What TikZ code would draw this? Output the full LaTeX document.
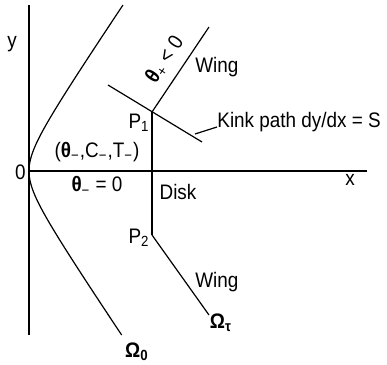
\documentclass[tikz,border=0pt]{standalone}
\usepackage{fontspec}
\setmainfont{Liberation Sans}[FakeStretch=0.9]
\usetikzlibrary{positioning}
\tikzset{
    % Lines
    axis/.style = {line width=0.8pt},
    curve/.style = {line width=0.6pt},
    % Labels
    lbl/.style = {inner sep=0pt, font=\fontsize{10.5}{12}\selectfont},
    greek/.style = {lbl, font=\fontsize{10.5}{12}\selectfont\bfseries}
}
\newcommand{\thsub}[1]{{\bfseries θ}\textsubscript{#1}}

\begin{document}
\begin{tikzpicture}[x=0.5pt, y=0.5pt]
    \useasboundingbox (-29,-194) rectangle (358,171);

    \coordinate (origin) at (0,0);
    \coordinate (ytop) at (0,166);
    \coordinate (ybot) at (0,-164);
    \coordinate (xend) at (338,0);
    \coordinate (P1) at (123,59);
    \coordinate (P2) at (123,-64);
    \coordinate (wingup) at (180,144);
    \coordinate (wingdown) at (180,-144);
    \coordinate (kinkA) at (79,86);
    \coordinate (kinkB) at (173,29);
    \coordinate (kinkfoot) at (166,37);

    % Axes
    \draw [axis] (ytop) -- (ybot);
    \draw [axis] (origin) -- (xend);
    \node (ylbl) [lbl] at (-17,127) {y};
    \node (zerolbl) [lbl, anchor=east] at (-3,-1) {0};
    \node (xlbl) [lbl] at (321,-9) {x};

    % Omega_0 boundary
    \draw [curve] plot [domain=-16.4:16.6, samples=70, smooth, variable=\t]
        ({10*sqrt(4+0.457*\t*\t)-20}, {10*\t});
    \node (omzero) [greek] at (108,-181) {Ω\textsubscript{0}};

    % Disk and wings
    \draw [axis] (P1) -- (P2);
    \draw [curve] (P1) -- (wingup);
    \draw [curve] (P2) -- (wingdown);
    \draw [curve] (kinkA) -- (kinkB);

    \node (p1lbl) [lbl, anchor=east] at (121,48) {P\textsubscript{1}};
    \node (p2lbl) [lbl, anchor=east] at (121,-67) {P\textsubscript{2}};
    \node (wingtop) [lbl, anchor=base west] at (166,99) {Wing};
    \node (wingbot) [lbl, anchor=base west] at (166,-116) {Wing};
    \node (omtau) [greek] at (192,-152) {Ω\textsubscript{τ}};
    \node (thplus) [lbl, rotate=56] at (136,111) {\thsub{+} < 0};

    \node (kinklbl) [lbl, anchor=base west] at (188,44) {Kink path dy/dx = S};
    \draw [curve] (kinkfoot) -- (kinklbl.base west);

    \node (state) [lbl] at (68,19) {(\thsub{−},C\textsubscript{−},T\textsubscript{−})};
    \node (thzero) [lbl] at (68,-15) {\thsub{−} = 0};
    \node (disk) [lbl] at (149,-21) {Disk};
\end{tikzpicture}
\end{document}
